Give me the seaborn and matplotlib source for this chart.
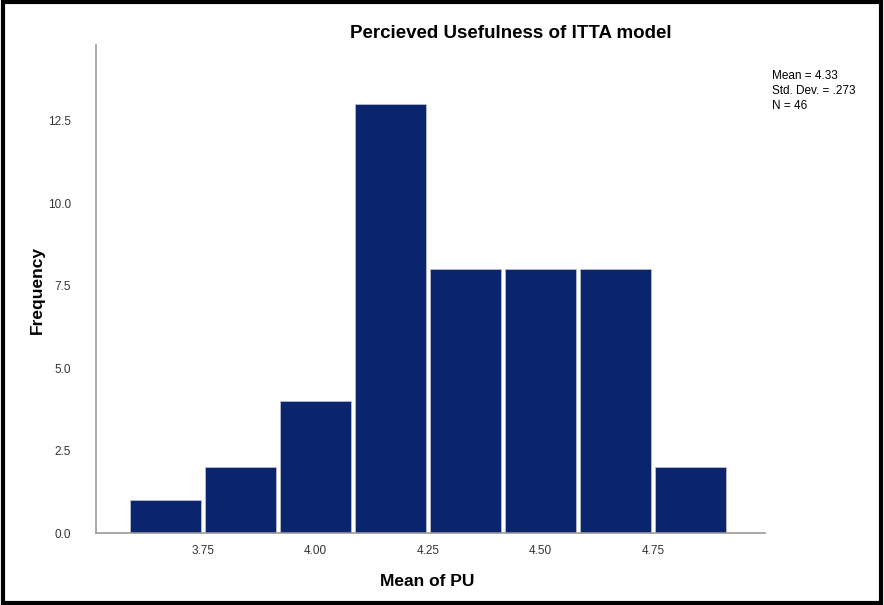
import numpy as np
import pandas as pd
import matplotlib
matplotlib.use('Agg')
import matplotlib.pyplot as plt
import seaborn as sns
from matplotlib.patches import Rectangle

# bin centres (Mean of PU) and frequencies
bin_centres = [3.6667, 3.8333, 4.0000, 4.1667, 4.3333, 4.5000, 4.6667, 4.8333]
frequencies = [1, 2, 4, 13, 8, 8, 8, 2]
x_ticks = [3.75, 4.00, 4.25, 4.50, 4.75]
y_ticks = [0.0, 2.5, 5.0, 7.5, 10.0, 12.5]
stats_txt = 'Mean = 4.33\nStd. Dev. = .273\nN = 46'

df = pd.DataFrame({'mean_pu': bin_centres, 'freq': frequencies})

sns.set_style('white')
plt.rcParams['font.family'] = ['Liberation Sans', 'DejaVu Sans']
plt.rcParams['text.color'] = 'black'

bin_w = 1 / 6

fig = plt.figure(figsize=(8.84, 6.05), dpi=100)
ax = fig.add_axes([96 / 884, 1 - 533 / 605, (765 - 96) / 884, (533 - 45) / 605])

sns.histplot(data=df, x='mean_pu', weights='freq', binwidth=bin_w,
             binrange=(3.75 - bin_w, 4.75 + bin_w), shrink=0.95, ax=ax,
             color='#0a256e', alpha=1, edgecolor='#b8bccc', linewidth=0.6)

ax.set_xlim(3.5125, 4.9985)
ax.set_ylim(0, 14.8)
ax.set_xticks(x_ticks)
ax.set_xticklabels([f'{t:.2f}' for t in x_ticks])
ax.set_yticks(y_ticks)
ax.set_yticklabels([f'{t:.1f}' for t in y_ticks])
ax.tick_params(axis='both', length=0, labelsize=8.5, labelcolor='#333333')
ax.tick_params(axis='y', pad=18)
ax.tick_params(axis='x', pad=9)
for s in ['top', 'right']:
    ax.spines[s].set_visible(False)
for s in ['left', 'bottom']:
    ax.spines[s].set_color('#999999')
    ax.spines[s].set_linewidth(1.2)

ax.set_xlabel('')
ax.set_ylabel('')
fig.text(427 / 884, 1 - 582 / 605, 'Mean of PU', ha='center', va='center',
         fontsize=12.5, fontweight='bold')
fig.text(37 / 884, 1 - 290 / 605, 'Frequency', ha='center', va='center',
         rotation=90, fontsize=12.5, fontweight='bold')
fig.text(511 / 884, 1 - 33 / 605, 'Percieved Usefulness of ITTA model',
         ha='center', va='center', fontsize=13.5, fontweight='bold')
fig.text(772 / 884, 1 - 70 / 605, stats_txt, ha='left', va='top',
         fontsize=8.5, linespacing=1.35)

fig.patches.append(Rectangle((0.003, 0.004), 0.994, 0.992, transform=fig.transFigure,
                             fill=False, edgecolor='black', linewidth=3))

fig.savefig('out.png', dpi=100)
